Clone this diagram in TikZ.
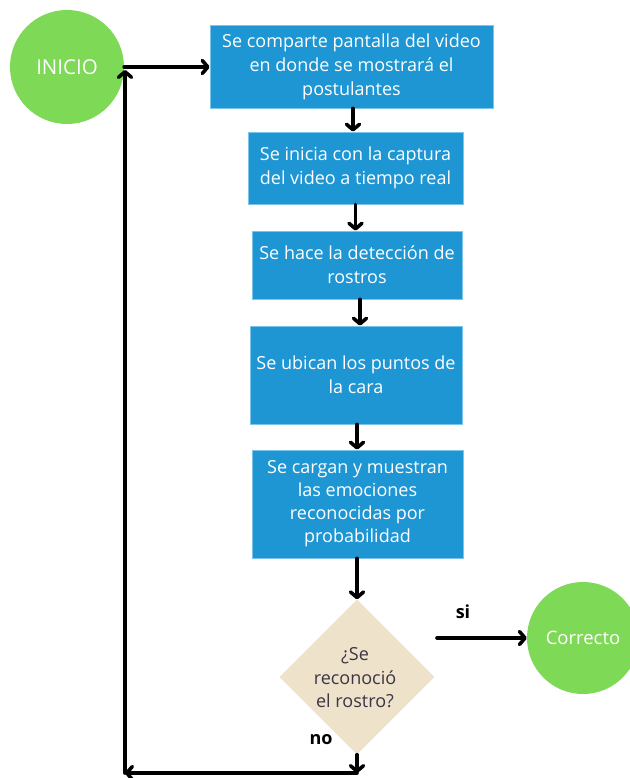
\documentclass[tikz,border=0pt]{standalone}
\usepackage{fontspec}
\setmainfont{Open Sans}
\usetikzlibrary{shapes.geometric,arrows.meta,calc}
\definecolor{boxblue}{HTML}{1D96D3}
\definecolor{boxedge}{HTML}{7CC4EA}
\definecolor{startgreen}{HTML}{7ED957}
\definecolor{decbeige}{HTML}{EEE2CA}
\definecolor{dectext}{HTML}{3A3645}
\begin{document}
\begin{tikzpicture}[x=1pt,y=-1pt,
  stepbox/.style={rectangle, fill=boxblue, draw=boxedge, line width=0.8pt, text=white, align=center, font=\fontsize{18}{24}\selectfont, inner sep=0pt},
  endcircle/.style={circle, fill=startgreen, inner sep=0pt, text=white},
  flow/.style={line width=3.6pt, line cap=round, line join=round, -{Straight Barb[length=5.5pt,width=13pt,line cap=round,line join=round]}},
  lbl/.style={font=\fontsize{18}{20}\selectfont\bfseries, text=black}
]
\useasboundingbox (0,0) rectangle (629,778);
\fill[white] (0,0) rectangle (629,778);

\node[endcircle, minimum size=114pt, font=\fontsize{20.5}{24}\selectfont] (inicio) at (67,67) {INICIO};
\node[stepbox, minimum width=283pt, minimum height=83pt] (b1) at (351.5,66.5) {Se comparte pantalla del video\\en donde se mostrará el\\postulantes};
\node[stepbox, minimum width=215pt, minimum height=72pt] (b2) at (355.5,168) {Se inicia con la captura\\del video a tiempo real};
\node[stepbox, minimum width=210pt, minimum height=68pt] (b3) at (357,265) {Se hace la detección de\\rostros};
\node[stepbox, minimum width=212pt, minimum height=98pt] (b4) at (356,375) {Se ubican los puntos de\\la cara};
\node[stepbox, minimum width=211pt, minimum height=108pt, font=\fontsize{18}{23}\selectfont] (b5) at (357.5,504) {Se cargan y muestran\\las emociones\\reconocidas por\\probabilidad};
\node[diamond, aspect=1, fill=decbeige, minimum width=155pt, minimum height=155pt, inner sep=0pt] (d) at (357,677) {};
\node[align=center, text=dectext, font=\fontsize{18}{23.5}\selectfont, inner sep=0pt] (dtext) at (355,678) {¿Se\\reconoció\\el rostro?};
\node[endcircle, minimum size=112pt, font=\fontsize{18.5}{21}\selectfont] (corr) at (583,638) {Correcto};

\coordinate (sistart) at (437,638);
\coordinate (lb) at (357,773);
\coordinate (lc) at (125,773);
\coordinate (lt) at (125,70);

\draw[flow] (inicio.east) -- (inicio.east -| b1.west);
\draw[flow] ($(b1.south)+(1.5,0)$) -- ($(b1.south |- b2.north)+(1.5,0)$);
\draw[flow] (b2.south) -- (b2.south |- b3.north);
\draw[flow] ($(b3.south)+(3,0)$) -- ($(b3.south |- b4.north)+(3,0)$);
\draw[flow] ($(b4.south)+(1,0)$) -- ($(b4.south |- b5.north)+(1,0)$);
\draw[flow] (b5.south -| d.north) -- (d.north);
\draw[flow] (d.south) -- (lb);
\draw[flow] (lb) -- (lc);
\draw[flow] (lc) -- (lt);
\draw[flow] (sistart) -- (corr.west);

\node[lbl] (si) at (463,612) {si};
\node[lbl] (no) at (321,740) {no};
\end{tikzpicture}
\end{document}
